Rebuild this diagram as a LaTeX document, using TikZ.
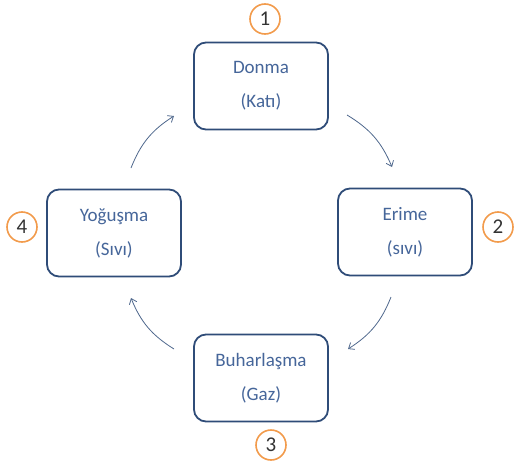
\documentclass[tikz,border=0pt]{standalone}
\usepackage{fontspec}
\setmainfont{Carlito}
\usetikzlibrary{arrows.meta,positioning}
\definecolor{boxblue}{HTML}{2F4C78}
\definecolor{txtblue}{HTML}{46669A}
\definecolor{numorange}{HTML}{F29B4C}
\tikzset{
  phase/.style={
    rectangle, rounded corners=12pt, draw=boxblue, line width=1.8pt,
    fill=white, minimum width=134pt, minimum height=87pt,
    align=center, text=txtblue, font=\fontsize{19}{34}\selectfont
  },
  num/.style={
    circle, draw=numorange, line width=1.6pt, fill=white,
    minimum size=30pt, inner sep=0pt,
    font=\fontsize{21}{24}\selectfont, text=black!80
  },
  arrow/.style={-{Straight Barb[length=5pt,width=8pt]}, line width=0.8pt, draw=boxblue!85}
}

\begin{document}
\begin{tikzpicture}[x=1pt,y=-1pt]
  \useasboundingbox (0,0) rectangle (514,463);

  % Phase boxes
  \node[phase] (donma) at (261,86) {Donma\\(Katı)};
  \node[phase] (erime) at (405,232) {Erime\\(sıvı)};
  \node[phase] (buhar) at (261,378) {Buharlaşma\\(Gaz)};
  \node[phase] (yogus) at (114,233) {Yoğuşma\\(Sıvı)};

  % Numbers
  \node[num] (n1) at (265,19) {1};
  \node[num] (n2) at (498,227) {2};
  \node[num] (n3) at (271,445) {3};
  \node[num] (n4) at (22,227) {4};

  % Arrow ends
  \coordinate (a1s) at (131,168);
  \coordinate (a1e) at (174,116);
  \coordinate (a2s) at (347,115);
  \coordinate (a2e) at (392,167);
  \coordinate (a3s) at (391,297);
  \coordinate (a3e) at (348,349);
  \coordinate (a4s) at (174,349);
  \coordinate (a4e) at (131,298);

  % Cycle
  \draw[arrow] (a1s) to[bend left=18] (a1e);
  \draw[arrow] (a2s) to[bend left=18] (a2e);
  \draw[arrow] (a3s) to[bend left=18] (a3e);
  \draw[arrow] (a4s) to[bend left=18] (a4e);

\end{tikzpicture}
\end{document}
